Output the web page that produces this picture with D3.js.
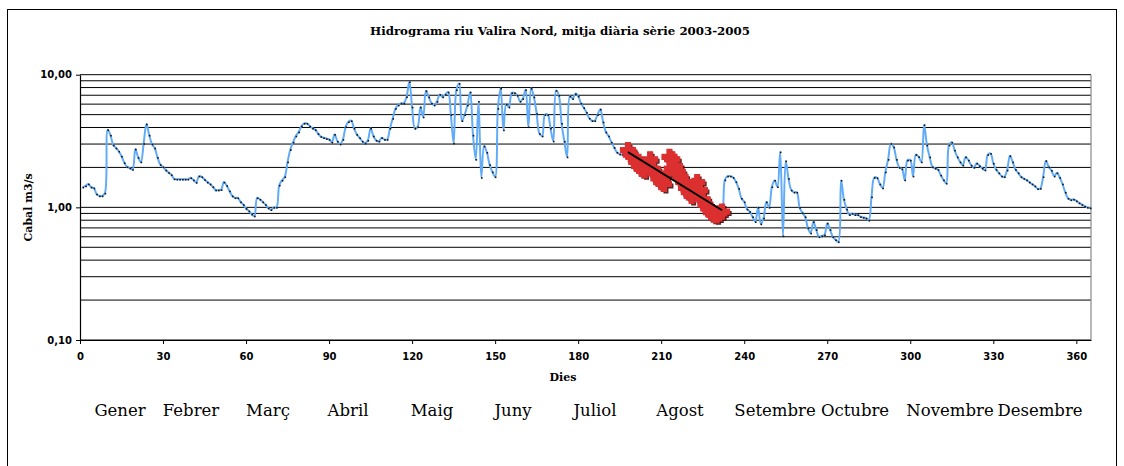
<!DOCTYPE html>
<html>
<head>
<meta charset="utf-8">
<script src="https://cdn.jsdelivr.net/npm/d3@7"></script>
<style>
	body { margin: 0; background: #fff; }
	svg { display: block; }
</style>
</head>
<body>
<svg width="1124" height="466"></svg>
<script>
//============= DATA =============

const titol = "Hidrograma riu Valira Nord, mitja diària sèrie 2003-2005";
const titolY = "Cabal m3/s";
const titolX = "Dies";

// Mean daily flow (m3/s), one value per day of the year, day 1 to day 365
const cabal = [
	1.42, 1.45, 1.5, 1.42, 1.4, 1.26, 1.22, 1.22, 1.28, 3.85,
	3.5, 2.95, 2.8, 2.65, 2.43, 2.17, 2.02, 1.98, 1.93, 2.75,
	2.38, 2.2, 3.03, 4.25, 3.5, 3.0, 2.8, 2.38, 2.1, 2.02,
	1.91, 1.83, 1.76, 1.64, 1.63, 1.63, 1.63, 1.63, 1.63, 1.67,
	1.61, 1.54, 1.72, 1.7, 1.62, 1.55, 1.5, 1.43, 1.35, 1.35,
	1.36, 1.55, 1.46, 1.33, 1.22, 1.18, 1.18, 1.1, 1.05, 0.98,
	0.94, 0.89, 0.86, 1.18, 1.15, 1.1, 1.05, 0.99, 0.96, 1.0,
	1.0, 1.47, 1.6, 1.7, 2.2, 2.73, 3.1, 3.45, 3.7, 4.1,
	4.3, 4.3, 4.1, 3.95, 3.85, 3.6, 3.42, 3.35, 3.3, 3.25,
	3.1, 3.55, 3.15, 3.0, 3.25, 4.05, 4.42, 4.5, 3.95, 3.55,
	3.35, 3.15, 3.05, 3.2, 3.95, 3.45, 3.2, 3.15, 3.35, 3.25,
	3.25, 3.95, 4.68, 5.57, 5.9, 6.1, 6.1, 6.82, 8.85, 5.7,
	3.94, 4.05, 5.7, 4.8, 7.57, 6.8, 6.1, 5.9, 6.3, 7.1,
	6.8, 7.1, 7.4, 5.0, 3.05, 7.7, 8.6, 4.5, 5.0, 5.9,
	7.4, 3.5, 2.3, 6.3, 1.68, 2.9, 2.6, 2.1, 1.85, 1.7,
	5.57, 7.9, 3.83, 6.0, 5.7, 7.3, 7.3, 7.0, 6.3, 6.6,
	7.7, 4.05, 7.9, 6.8, 5.1, 3.6, 3.45, 5.0, 5.0, 3.95,
	3.16, 7.6, 7.0, 4.3, 3.15, 2.4, 6.9, 6.6, 7.2, 6.9,
	6.1, 5.65, 5.2, 4.7, 4.5, 4.5, 5.0, 5.5, 4.4, 3.7,
	3.45, 3.1, 2.83, 2.6, 2.52, 2.5, 2.6, 2.7, 2.5, 2.4,
	2.2, 2.05, 1.95, 1.9, 2.05, 2.3, 1.95, 1.8, 1.65, 1.55,
	1.5, 1.8, 2.4, 2.3, 2.05, 1.85, 1.7, 1.55, 1.4, 1.3,
	1.22, 1.45, 1.55, 1.35, 1.15, 1.05, 0.98, 0.92, 0.88, 0.87,
	0.9, 0.93, 1.61, 1.72, 1.72, 1.68, 1.56, 1.39, 1.17, 1.1,
	0.97, 0.93, 0.85, 0.78, 1.0, 0.75, 0.83, 1.1, 1.0, 1.43,
	1.6, 1.43, 2.62, 0.61, 2.24, 1.65, 1.35, 1.3, 1.3, 1.0,
	0.91, 0.85, 0.7, 0.64, 0.78, 0.68, 0.6, 0.61, 0.62, 0.76,
	0.68, 0.6, 0.57, 0.55, 1.6, 1.15, 0.97, 0.88, 0.9, 0.88,
	0.88, 0.85, 0.84, 0.83, 0.8, 1.2, 1.68, 1.67, 1.5, 1.4,
	1.85, 2.3, 3.03, 2.85, 2.3, 2.0, 1.95, 1.61, 2.27, 2.27,
	1.72, 2.5, 2.41, 2.2, 4.2, 2.95, 2.4, 2.02, 1.97, 1.93,
	1.75, 1.61, 1.52, 2.95, 3.1, 2.7, 2.4, 2.2, 2.08, 2.4,
	2.27, 2.08, 2.0, 2.15, 2.06, 1.97, 1.91, 2.5, 2.55, 2.15,
	1.93, 1.82, 1.72, 1.7, 1.91, 2.45, 2.2, 1.93, 1.82, 1.7,
	1.65, 1.61, 1.55, 1.5, 1.45, 1.38, 1.39, 1.7, 2.25, 2.02,
	1.9, 1.72, 1.82, 1.68, 1.5, 1.3, 1.17, 1.14, 1.15, 1.12,
	1.08, 1.05, 1.02, 1.0, 0.99
];

// Recession period highlighted in red (first and last day)
const recessio = [198, 232];

const mesos = ["Gener", "Febrer", "Març", "Abril", "Maig", "Juny", "Juliol",
	"Agost", "Setembre", "Octubre", "Novembre", "Desembre"];

const ticksX = [0, 30, 60, 90, 120, 150, 180, 210, 240, 270, 300, 330, 360];
const ticksY = [0.1, 1, 10];

//============= LAYOUT =============

const plotLeft = 80, plotRight = 1091, plotTop = 74.7, plotBottom = 340;

// centre of each month label, in pixels (typed text under the chart)
const xMesos = [120, 191, 268, 348, 432, 513, 595, 680, 775, 855, 950, 1040];

const svg = d3.select("svg");

// outer frame of the chart
svg.append("rect").attr("x", 7.5).attr("y", 9.5).attr("width", 1109).attr("height", 470)
	.style("fill", "white").style("stroke", "black").style("stroke-width", 1);

const x = d3.scaleLinear().domain([0, 365.3]).range([plotLeft, plotRight]);
const y = d3.scaleLog().domain([0.1, 10]).range([plotBottom, plotTop]);

let punts = cabal.map(function(v, i) { return { dia: i + 1, q: v }; });
let puntsRec = punts.filter(function(d) { return d.dia >= recessio[0] && d.dia <= recessio[1]; });

//============= GRID =============

// horizontal gridlines on every log tick (0.1 ... 10)
svg.append("g").selectAll("line").data(y.ticks()).enter().append("line")
	.attr("x1", plotLeft).attr("x2", plotRight)
	.attr("y1", function(d) { return y(d); })
	.attr("y2", function(d) { return y(d); })
	.style("stroke", "black").style("stroke-width", 1);

// plot area border (grey on the right)
svg.append("line").attr("x1", plotRight).attr("x2", plotRight).attr("y1", plotTop).attr("y2", plotBottom)
	.style("stroke", "#8a8a8a").style("stroke-width", 1.2);

//============= SERIES =============

const linia = d3.line()
	.x(function(d) { return x(d.dia); })
	.y(function(d) { return y(d.q); })
	.curve(d3.curveCatmullRom);

svg.append("path").datum(punts).attr("d", linia)
	.style("fill", "none").style("stroke", "#62abf7").style("stroke-width", 2);

// small black markers on each day
svg.append("g").selectAll("rect").data(punts).enter().append("rect")
	.attr("x", function(d) { return x(d.dia) - 0.3; })
	.attr("y", function(d) { return y(d.q) - 0.3; })
	.attr("width", 1.6).attr("height", 1.6)
	.style("fill", "#111");

// red recession markers, with a dark shadow
const creu = d3.symbol().type(d3.symbolCross).size(125);

svg.append("g").selectAll("path").data(puntsRec).enter().append("path")
	.attr("d", creu)
	.attr("transform", function(d) { return "translate(" + (x(d.dia) + 2) + "," + (y(d.q) + 2) + ")"; })
	.style("fill", "#4a0c0c").style("opacity", 0.9);

svg.append("g").selectAll("path").data(puntsRec).enter().append("path")
	.attr("d", creu)
	.attr("transform", function(d) { return "translate(" + x(d.dia) + "," + y(d.q) + ")"; })
	.style("fill", "#dc3030").style("stroke", "#dc3030").style("stroke-width", 1.2).style("stroke-linejoin", "round");

// exponential trend line of the recession (least squares on ln q)
let mx = d3.mean(puntsRec, function(d) { return d.dia; });
let my = d3.mean(puntsRec, function(d) { return Math.log(d.q); });
let sxy = d3.sum(puntsRec, function(d) { return (d.dia - mx) * (Math.log(d.q) - my); });
let sxx = d3.sum(puntsRec, function(d) { return (d.dia - mx) * (d.dia - mx); });
let b = sxy / sxx;
let a = my - b * mx;
let tendencia = recessio.map(function(t) { return { dia: t, q: Math.exp(a + b * t) }; });

svg.append("path").datum(tendencia)
	.attr("d", d3.line().x(function(d) { return x(d.dia); }).y(function(d) { return y(d.q); }))
	.style("fill", "none").style("stroke", "black").style("stroke-width", 2);

//============= AXES =============

const formatY = function(d) { return d3.format(".2f")(d).replace(".", ","); };

let axY = svg.append("g").attr("transform", "translate(" + plotLeft + ",0)")
	.call(d3.axisLeft(y).tickValues(ticksY).tickFormat(formatY).tickSize(4).tickSizeOuter(0));
let axX = svg.append("g").attr("transform", "translate(0," + plotBottom + ")")
	.call(d3.axisBottom(x).tickValues(ticksX).tickFormat(d3.format("d")).tickSize(4).tickSizeOuter(0));

[axY, axX].forEach(function(ax) {
	ax.select(".domain").style("stroke", "black").style("stroke-width", 1.2);
	ax.selectAll(".tick line").style("stroke", "black");
	ax.selectAll("text").style("font-family", "Verdana, 'DejaVu Sans', sans-serif")
		.style("font-size", "10px").style("font-weight", "bold").style("fill", "black");
});
axY.selectAll("text").attr("x", -8);
axX.selectAll("text").attr("y", 13);

//============= TEXTS =============

svg.append("text").attr("x", 560).attr("y", 35).attr("text-anchor", "middle")
	.style("font-family", "'DejaVu Serif', serif").style("font-size", "11.8px").style("font-weight", "bold")
	.text(titol);

svg.append("text").attr("transform", "translate(32," + ((plotTop + plotBottom) / 2) + ") rotate(-90)")
	.attr("text-anchor", "middle")
	.style("font-family", "'DejaVu Serif', serif").style("font-size", "11px").style("font-weight", "bold")
	.text(titolY);

svg.append("text").attr("x", 563).attr("y", 381).attr("text-anchor", "middle")
	.style("font-family", "'DejaVu Serif', serif").style("font-size", "11px").style("font-weight", "bold")
	.text(titolX);

svg.append("g").selectAll("text").data(mesos).enter().append("text")
	.attr("x", function(d, i) { return xMesos[i]; })
	.attr("y", 416)
	.attr("text-anchor", "middle")
	.style("font-family", "'DejaVu Serif', serif").style("font-size", "16.5px")
	.text(function(d) { return d; });
</script>
</body>
</html>
